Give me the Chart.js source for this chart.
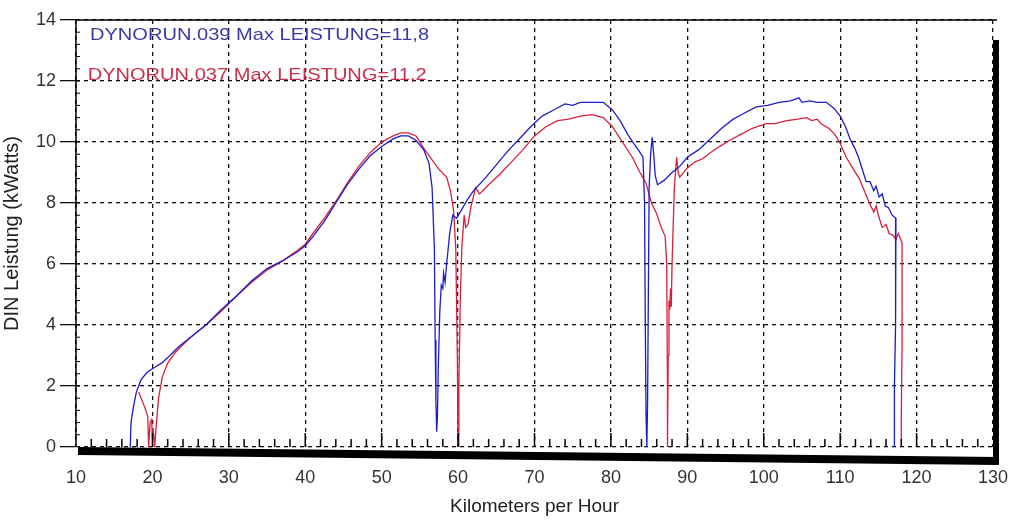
<!DOCTYPE html>
<html>
<head>
<meta charset="utf-8">
<script src="https://cdn.jsdelivr.net/npm/chart.js@4/dist/chart.umd.min.js"></script>
<style>
  html, body { margin: 0; padding: 0; background: #fff; }
  #wrap { width: 1010px; height: 520px; }
</style>
</head>
<body>
<div id="wrap"><canvas id="dyno"></canvas></div>
<script>
// axis ticks
var xTicks = [10, 20, 30, 40, 50, 60, 70, 80, 90, 100, 110, 120, 130];
var yTicks = [0, 2, 4, 6, 8, 10, 12, 14];

// legend texts
var runLabels = ['DYNORUN.039 Max LEISTUNG=11,8', 'DYNORUN.037 Max LEISTUNG=11,2'];

// DYNORUN.039 (blue)
var blueX = [17.1,17.2,17.5,17.9,18.5,19.3,20.2,21.2,22.3,23.5,25,27,29,31,33,35,37,39,40,41,42.5,44,45.5,47,48.5,50,51.5,52.5,53.5,54.5,55.5,56.2,56.6,56.9,57.0,57.1,57.2,57.3,57.4,57.6,57.8,58.0,58.1,58.3,58.5,58.9,59.3,59.8,60.5,61.2,62,63.5,65,66.5,68,69.5,71,72.5,74,75,76,77.5,79,80.2,81.2,82.2,83,83.7,84.2,84.4,84.5,84.6,84.7,84.8,84.9,85.0,85.2,85.4,85.6,85.8,86.1,87,88,89,90,91.5,93,94.5,96,97.5,99,100.5,102,103.5,104.6,105,106,107,108.2,109.2,110,110.7,111.3,111.9,112.4,112.9,113.4,113.9,114.4,114.7,115.1,115.5,115.9,116.3,116.8,117.3,117.3,117.2,117.1,117.1];
var blueY = [0,0.8,1.3,1.8,2.2,2.45,2.6,2.75,3.0,3.3,3.6,4.0,4.5,4.95,5.45,5.85,6.1,6.4,6.6,6.9,7.4,8.0,8.6,9.1,9.55,9.85,10.1,10.2,10.2,10.05,9.75,9.3,8.5,6.5,3.5,1.5,0.5,1.0,2.5,4.4,5.3,5.2,5.7,5.4,6.0,7.0,7.6,7.5,7.8,8.1,8.4,8.8,9.25,9.7,10.1,10.5,10.85,11.05,11.25,11.2,11.3,11.3,11.3,11.05,10.7,10.25,9.95,9.7,9.5,8.0,4.0,1.0,0,1.5,5.0,8.5,9.6,10.15,9.6,8.9,8.6,8.75,9.0,9.2,9.5,9.75,10.1,10.45,10.75,10.95,11.15,11.2,11.3,11.35,11.45,11.3,11.35,11.3,11.3,11.1,10.85,10.5,10.1,9.8,9.5,9.1,8.7,8.7,8.4,8.55,8.2,8.3,7.9,7.85,7.6,7.5,6.6,4.0,2.0,0];

// DYNORUN.037 (red)
var redX = [18.2,19.0,19.4,19.5,19.7,19.9,20.0,20.1,20.3,20.5,20.8,21.3,22,23,24,25,27,29,31,33,35,37,39,40,41,42.5,44,45.5,47,48.5,50,51.5,52.5,53.5,54.5,55.5,56.5,57.5,58.5,59.0,59.4,59.7,59.9,60.0,60.1,60.3,60.5,60.8,61.0,61.3,61.7,62.3,62.8,64,65.5,67,68.5,70,71.5,73,74.5,76,77.5,79,80.2,81.5,82.8,83.8,84.6,85.3,85.9,86.6,87.1,87.3,87.4,87.4,87.5,87.6,87.7,87.8,87.9,88.0,88.3,88.6,88.8,89,90,91,92,93,94.2,95.5,97,98.5,100.3,101.5,103,104.5,105.6,106.3,107,107.5,108.5,109.3,110,110.8,111.5,112.5,113,113.5,114,114.4,114.7,115,115.5,116,116.4,116.9,117.3,117.6,118.1,118.1,118.0,118.0];
var redY = [1.8,1.3,1.0,0.0,0.8,0.9,0.3,0.6,0.0,0.7,1.6,2.3,2.75,3.1,3.35,3.6,4.0,4.45,4.95,5.4,5.8,6.1,6.45,6.65,7.0,7.5,8.05,8.65,9.2,9.65,10.0,10.2,10.3,10.3,10.2,9.8,9.45,9.1,8.85,8.4,7.8,6.5,3.0,0.0,2.0,5.0,6.6,7.6,7.2,7.3,7.9,8.5,8.3,8.6,8.95,9.35,9.75,10.2,10.5,10.7,10.75,10.85,10.9,10.8,10.5,10.0,9.5,9.0,8.65,8.0,7.7,7.2,6.9,6.0,2.0,0,3.0,4.8,4.5,5.2,4.6,6.0,8.5,9.5,9.0,8.85,9.15,9.35,9.45,9.65,9.85,10.05,10.25,10.45,10.6,10.6,10.7,10.75,10.8,10.7,10.75,10.6,10.45,10.25,9.95,9.5,9.2,8.8,8.5,8.2,7.9,7.7,7.9,7.6,7.2,7.3,7.0,6.95,6.8,7.0,6.7,3.3,1.0,0];

function pairs(xs, ys) {
  return xs.map(function(x, i) { return { x: x, y: ys[i] }; });
}

var blueColor = '#1c1cc8';
var redColor = '#d8203c';
var font = 'Liberation Sans';

// frame, minor ticks and run labels
var framePlugin = {
  id: 'frame',
  afterDraw: function(chart) {
    var ctx = chart.ctx, a = chart.chartArea;
    var xs = chart.scales.x, ys = chart.scales.y;
    ctx.save();
    ctx.strokeStyle = '#000';
    // minor ticks on the x axis
    ctx.lineWidth = 1.5;
    for (var v = 12; v < 130; v += 2) {
      var px = xs.getPixelForValue(v);
      var len = (v % 10 === 0) ? 14 : 8;
      ctx.beginPath();
      ctx.moveTo(px, a.bottom);
      ctx.lineTo(px, a.bottom - len);
      ctx.stroke();
    }
    // minor ticks on the y axis
    ctx.lineWidth = 1;
    for (var w = 0.4; w < 14; w += 0.4) {
      var py = ys.getPixelForValue(w);
      ctx.beginPath();
      ctx.moveTo(a.left, py);
      ctx.lineTo(a.left + 4, py);
      ctx.stroke();
    }
    // top and left thin lines
    ctx.lineWidth = 1.5;
    ctx.beginPath();
    ctx.moveTo(a.left, a.bottom);
    ctx.lineTo(a.left, a.top);
    ctx.lineTo(a.right + 4, a.top);
    ctx.stroke();
    // thick right border
    ctx.lineWidth = 6;
    ctx.beginPath();
    ctx.moveTo(a.right + 3, a.top + 20);
    ctx.lineTo(a.right + 3, a.bottom + 18);
    ctx.stroke();
    // thick bottom axis
    ctx.lineWidth = 8;
    ctx.beginPath();
    ctx.moveTo(a.left + 2, a.bottom + 4);
    ctx.lineTo(a.right + 4, a.bottom + 14);
    ctx.stroke();
    // run labels (slightly wide lettering)
    ctx.font = '17px "' + font + '"';
    ctx.textBaseline = 'middle';
    ctx.translate(a.left + 14, 0);
    ctx.scale(1.18, 1);
    ctx.fillStyle = '#3a3aa8';
    ctx.fillText(runLabels[0], 0, a.top + 15);
    ctx.fillStyle = '#c8304c';
    ctx.fillText(runLabels[1], -2, a.top + 55);
    ctx.restore();
  }
};

var ctx = document.getElementById('dyno').getContext('2d');
new Chart(ctx, {
  type: 'scatter',
  data: {
    datasets: [
      { label: runLabels[0], data: pairs(blueX, blueY), showLine: true, borderColor: blueColor, borderWidth: 1.3, pointRadius: 0, tension: 0 },
      { label: runLabels[1], data: pairs(redX, redY), showLine: true, borderColor: redColor, borderWidth: 1.3, pointRadius: 0, tension: 0 }
    ]
  },
  options: {
    responsive: true,
    maintainAspectRatio: false,
    animation: false,
    layout: { padding: { left: 0, right: 17, top: 20, bottom: 0 } },
    plugins: {
      legend: { display: false },
      tooltip: { enabled: false }
    },
    scales: {
      x: {
        type: 'linear',
        min: 10, max: 130,
        afterBuildTicks: function(s) { s.ticks = xTicks.map(function(v) { return { value: v }; }); },
        afterFit: function(s) { s.height = 73; s.paddingRight = 0; s.paddingLeft = 0; },
        grid: { color: '#111', lineWidth: 1.3, drawTicks: false, tickLength: 0 },
        border: { display: false, dash: [4, 4] },
        ticks: { color: '#333', padding: 20, font: { family: font, size: 18 }, maxRotation: 0 },
        title: { display: true, text: 'Kilometers per Hour', color: '#222', font: { family: font, size: 19 }, padding: { top: 0, bottom: 2 } }
      },
      y: {
        min: 0, max: 14,
        afterBuildTicks: function(s) { s.ticks = yTicks.map(function(v) { return { value: v }; }); },
        afterFit: function(s) { s.width = 76; },
        grid: { color: '#111', lineWidth: 1.3, drawTicks: true, tickLength: 16 },
        border: { display: false, dash: [4, 4] },
        ticks: { color: '#333', padding: 4, font: { family: font, size: 18 } },
        title: { display: true, text: 'DIN Leistung (kWatts)', color: '#222', font: { family: font, size: 20 }, padding: { top: 0, bottom: 2 } }
      }
    }
  },
  plugins: [framePlugin]
});
</script>
</body>
</html>
